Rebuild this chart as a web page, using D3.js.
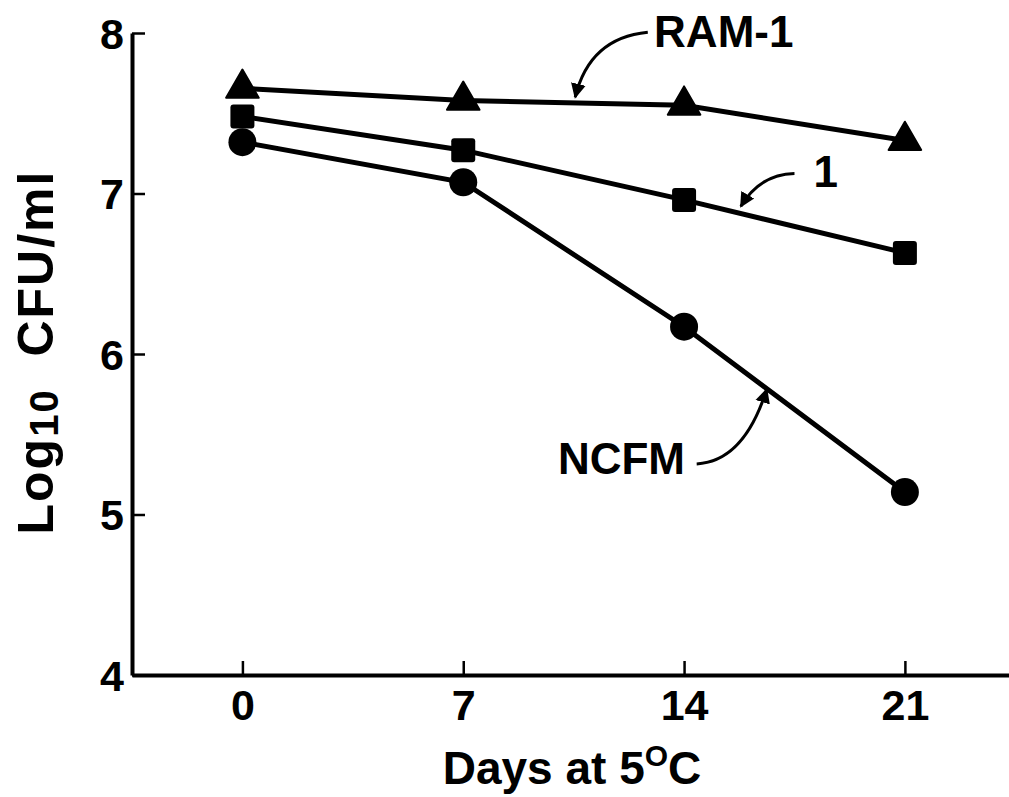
<!DOCTYPE html>
<html>
<head>
<meta charset="utf-8">
<script src="https://cdn.jsdelivr.net/npm/d3@7"></script>
<style>
  body { margin: 0; background: #fff; }
  text { font-family: "Liberation Sans", Arial, sans-serif; font-weight: bold; fill: #000; }
</style>
</head>
<body>
<div id="chart"></div>
<script>
const days = [0, 7, 14, 21]
const ram1 = [7.655, 7.58, 7.55, 7.33]
const strain1 = [7.48, 7.27, 6.96, 6.63]
const ncfm = [7.32, 7.07, 6.17, 5.14]
const yTicks = [4, 5, 6, 7, 8]

const size = { width: 1009, height: 797 }

const x = d3.scaleLinear().domain([-3.5, 24.3]).range([132, 1009])
const y = d3.scaleLinear().domain([4, 8]).range([675, 33])

const svg = d3.select('#chart')
  .append('svg')
  .attr('width', size.width)
  .attr('height', size.height)

// axes, ticks point into the plot
const xAxis = svg.append('g')
  .attr('transform', `translate(0,${y(4)})`)
  .call(d3.axisBottom(x).tickValues(days).tickSizeInner(-14).tickSizeOuter(0).tickPadding(14))
xAxis.select('.domain').attr('stroke-width', 4)
xAxis.selectAll('.tick line').attr('stroke-width', 2.5)
xAxis.selectAll('.tick text').attr('font-size', 43).attr('dy', '0.71em')

const yAxis = svg.append('g')
  .attr('transform', `translate(${x(-3.5)},0)`)
  .call(d3.axisLeft(y).tickValues(yTicks).tickFormat(d3.format('d')).tickSizeInner(-13).tickSizeOuter(0).tickPadding(8))
yAxis.select('.domain').attr('stroke-width', 4)
yAxis.selectAll('.tick line').attr('stroke-width', 2.5)
yAxis.selectAll('.tick text').attr('font-size', 43).attr('dy', '0.36em')

// axis titles
const xt = svg.append('text')
  .attr('x', 572).attr('y', 784)
  .attr('text-anchor', 'middle')
  .attr('font-size', 46)
xt.append('tspan').text('Days at 5')
xt.append('tspan').attr('font-size', 30).attr('dy', -18).text('O')
xt.append('tspan').attr('dy', 18).text('C')

const yt = svg.append('text')
  .attr('transform', 'translate(53,352) rotate(-90)')
  .attr('text-anchor', 'middle')
  .attr('font-size', 50)
  .attr('letter-spacing', 2)
  .style('white-space', 'pre')
yt.append('tspan').text('Log')
yt.append('tspan').attr('font-size', 40).attr('dy', 5).text('10')
yt.append('tspan').attr('dy', -5).text('  CFU/ml')

// lines
const line = d3.line().x((d, i) => x(days[i])).y(d => y(d))
const series = [ncfm, strain1, ram1]
svg.append('g').selectAll('path')
  .data(series)
  .enter()
  .append('path')
  .attr('d', line)
  .attr('fill', 'none')
  .attr('stroke', '#000')
  .attr('stroke-width', 5)

// markers
svg.append('g').selectAll('circle')
  .data(ncfm)
  .enter()
  .append('circle')
  .attr('cx', (d, i) => x(days[i]))
  .attr('cy', d => y(d))
  .attr('r', 14)

svg.append('g').selectAll('rect')
  .data(strain1)
  .enter()
  .append('rect')
  .attr('x', (d, i) => x(days[i]) - 12)
  .attr('y', d => y(d) - 12)
  .attr('width', 24)
  .attr('height', 24)
  .attr('rx', 3)

const tri = d3.symbol().type(d3.symbolTriangle).size(460)
svg.append('g').selectAll('path')
  .data(ram1)
  .enter()
  .append('path')
  .attr('d', tri)
  .attr('transform', (d, i) => `translate(${x(days[i])},${y(d)})`)
  .attr('stroke', '#000')
  .attr('stroke-linejoin', 'round')
  .attr('stroke-width', 2)

// annotations with curved arrows
svg.append('defs').append('marker')
  .attr('id', 'head')
  .attr('viewBox', '0 0 10 10')
  .attr('refX', 9).attr('refY', 5)
  .attr('markerWidth', 5).attr('markerHeight', 6)
  .attr('markerUnits', 'strokeWidth')
  .attr('orient', 'auto')
  .append('path')
  .attr('d', 'M0,0L10,5L0,10Z')

const notes = [
  { label: 'RAM-1', tx: 13.05, ty: 7.915, from: [12.85, 8.005], ctrl: [11.0, 7.97], to: [10.55, 7.6] },
  { label: '1', tx: 18.1, ty: 7.04, from: [17.5, 7.125], ctrl: [16.4, 7.12], to: [15.8, 6.92] },
  { label: 'NCFM', tx: 10.0, ty: 5.25, from: [14.4, 5.315], ctrl: [15.9, 5.33], to: [16.62, 5.78] }
]

svg.append('g').selectAll('path')
  .data(notes)
  .enter()
  .append('path')
  .attr('d', d => `M${x(d.from[0])},${y(d.from[1])}Q${x(d.ctrl[0])},${y(d.ctrl[1])} ${x(d.to[0])},${y(d.to[1])}`)
  .attr('fill', 'none')
  .attr('stroke', '#000')
  .attr('stroke-width', 3)
  .attr('marker-end', 'url(#head)')

svg.append('g').selectAll('text')
  .data(notes)
  .enter()
  .append('text')
  .attr('x', d => x(d.tx))
  .attr('y', d => y(d.ty))
  .attr('font-size', 44)
  .text(d => d.label)
</script>
</body>
</html>
